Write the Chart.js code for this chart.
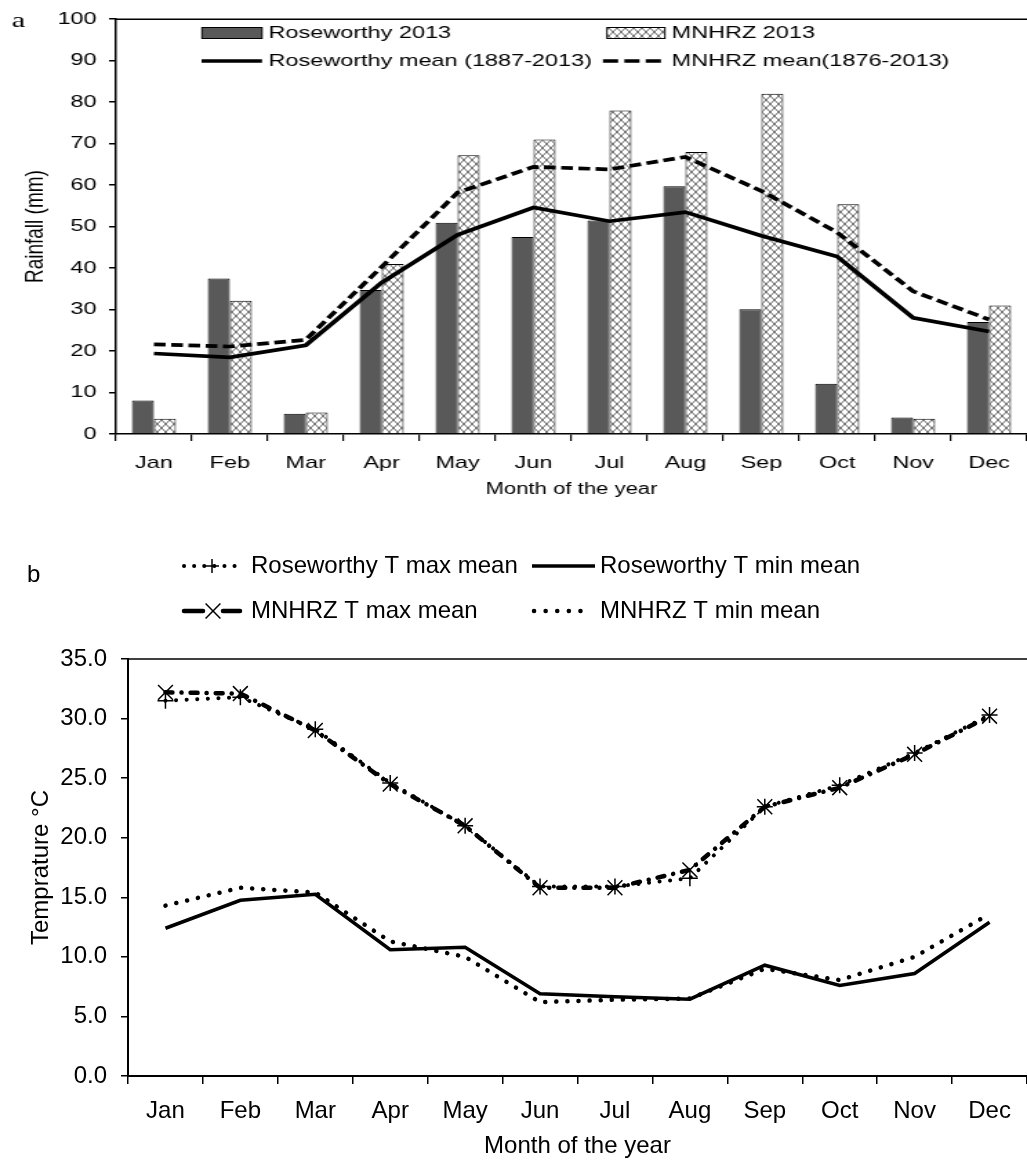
<!DOCTYPE html>
<html>
<head>
<meta charset="utf-8">
<script src="https://cdn.jsdelivr.net/npm/chart.js@4.4.1/dist/chart.umd.min.js"></script>
<style>
    html, body { margin: 0; padding: 0; background: #fff; }
    body { width: 1027px; height: 1169px; position: relative; overflow: hidden; }
    canvas { position: absolute; left: 0; }
    #rain-chart { top: 0; }
    #temp-chart { top: 520px; }
</style>
</head>
<body>
<!-- the rainfall panel is drawn narrow and stretched sideways, like the wide lettering of the original -->
<canvas id="rain-chart" width="744" height="510" style="width:1027px;height:510px"></canvas>
<canvas id="temp-chart" width="1027" height="649" style="width:1027px;height:649px"></canvas>
<script>
// ===== DATA =====
const MONTHS = ['Jan', 'Feb', 'Mar', 'Apr', 'May', 'Jun', 'Jul', 'Aug', 'Sep', 'Oct', 'Nov', 'Dec'];

// (a) rainfall, mm
const rainTicks = [0, 10, 20, 30, 40, 50, 60, 70, 80, 90, 100];
const roseworthy2013 = [8.1, 37.5, 4.9, 34.7, 50.9, 47.5, 51.5, 59.7, 30.1, 12.1, 4.0, 27.0];
const mnhrz2013 = [3.7, 32.1, 5.2, 41.0, 67.2, 71.0, 78.0, 68.0, 82.0, 55.4, 3.7, 31.0];
const roseworthyMean = [19.4, 18.5, 21.4, 36.5, 48.0, 54.6, 51.3, 53.5, 47.8, 42.8, 28.0, 24.7];
const mnhrzMean = [21.6, 21.1, 22.7, 40.3, 58.2, 64.4, 63.8, 66.8, 58.6, 48.6, 34.4, 27.6];

// (b) temperature, °C
const tempTicks = [0, 5, 10, 15, 20, 25, 30, 35];
const roseworthyTmax = [31.5, 31.8, 29.1, 24.6, 21.0, 15.9, 15.9, 16.6, 22.6, 24.4, 27.1, 30.3];
const roseworthyTmin = [12.4, 14.75, 15.25, 10.6, 10.8, 6.9, 6.65, 6.45, 9.3, 7.6, 8.6, 12.9];
const mnhrzTmax = [32.2, 32.1, 29.0, 24.5, 21.0, 15.8, 15.8, 17.3, 22.6, 24.2, 27.0, 30.2];
const mnhrzTmin = [14.3, 15.8, 15.4, 11.3, 10.0, 6.2, 6.4, 6.5, 9.0, 8.05, 10.0, 13.6];

const FONT = '"Liberation Sans", Arial, sans-serif';
Chart.defaults.font.family = FONT;
Chart.defaults.color = '#000';

// ===== HELPERS =====
function makeHatch(ctx) {
    const c = document.createElement('canvas');
    c.width = 6; c.height = 8;
    const g = c.getContext('2d');
    g.fillStyle = '#fff';
    g.fillRect(0, 0, 6, 8);
    g.strokeStyle = '#666';
    g.lineWidth = 1;
    g.beginPath();
    g.moveTo(0, 0); g.lineTo(6, 8);
    g.moveTo(6, 0); g.lineTo(0, 8);
    g.stroke();
    return ctx.createPattern(c, 'repeat');
}

function strokeSample(ctx, x0, x1, y, width, dash, cap) {
    ctx.save();
    ctx.strokeStyle = '#000';
    ctx.lineWidth = width;
    ctx.lineCap = cap || 'butt';
    ctx.setLineDash(dash || []);
    ctx.beginPath();
    ctx.moveTo(x0, y);
    ctx.lineTo(x1, y);
    ctx.stroke();
    ctx.restore();
}

function drawMarker(ctx, x, y, r, rotated) {
    ctx.save();
    ctx.strokeStyle = '#000';
    ctx.lineWidth = 1.5;
    ctx.beginPath();
    if (rotated) {
        const d = r * Math.SQRT1_2;
        ctx.moveTo(x - d, y - d); ctx.lineTo(x + d, y + d);
        ctx.moveTo(x + d, y - d); ctx.lineTo(x - d, y + d);
    } else {
        ctx.moveTo(x - r, y); ctx.lineTo(x + r, y);
        ctx.moveTo(x, y - r); ctx.lineTo(x, y + r);
    }
    ctx.stroke();
    ctx.restore();
}

// top edge of the plot frame
const topFrame = {
    id: 'topFrame',
    afterDraw(chart) {
        const { ctx, chartArea } = chart;
        ctx.save();
        ctx.strokeStyle = '#000';
        ctx.lineWidth = 1.5;
        ctx.beginPath();
        ctx.moveTo(chartArea.left, chartArea.top);
        ctx.lineTo(chartArea.right, chartArea.top);
        ctx.stroke();
        ctx.restore();
    }
};

// ===== (a) RAINFALL =====
const rainLegend = {
    id: 'rainLegend',
    afterDraw(chart) {
        const ctx = chart.ctx;
        const ds = chart.data.datasets;
        ctx.save();
        // bar swatches
        ctx.strokeStyle = '#000';
        ctx.lineWidth = 1;
        ctx.fillStyle = ds[0].backgroundColor;
        ctx.fillRect(146.3, 27.5, 43.5, 11);
        ctx.strokeRect(146.3, 27.5, 43.5, 11);
        ctx.fillStyle = ds[1].backgroundColor;
        ctx.fillRect(439.7, 27.5, 42, 11);
        ctx.strokeRect(439.7, 27.5, 42, 11);
        // line samples
        strokeSample(ctx, 146, 189.8, 61, ds[2].borderWidth);
        strokeSample(ctx, 436.8, 479.6, 61, ds[3].borderWidth, [11, 4.5]);
        // labels
        ctx.fillStyle = '#000';
        ctx.textBaseline = 'middle';
        ctx.font = '17px ' + FONT;
        ctx.fillText(ds[0].label, 194.5, 33);
        ctx.fillText(ds[1].label, 486.5, 33);
        ctx.fillText(ds[2].label, 194.5, 61);
        ctx.fillText(ds[3].label, 486.5, 61);
        // panel letter
        ctx.textBaseline = 'alphabetic';
        ctx.font = '22px "Liberation Serif", "Times New Roman", serif';
        ctx.fillText('a', 8.5, 27);
        ctx.restore();
    }
};

function initRainChart() {
    const canvas = document.getElementById('rain-chart');
    const ctx = canvas.getContext('2d');

    new Chart(canvas, {
        type: 'bar',
        data: {
            labels: MONTHS,
            datasets: [
                {
                    label: 'Roseworthy 2013',
                    data: roseworthy2013,
                    backgroundColor: '#595959',
                    borderColor: '#000',
                    borderWidth: 1,
                    order: 2
                },
                {
                    label: 'MNHRZ 2013',
                    data: mnhrz2013,
                    backgroundColor: makeHatch(ctx),
                    borderColor: '#000',
                    borderWidth: 1,
                    order: 2
                },
                {
                    type: 'line',
                    label: 'Roseworthy mean (1887-2013)',
                    data: roseworthyMean,
                    borderColor: '#000',
                    borderWidth: 3.7,
                    pointRadius: 0,
                    tension: 0,
                    order: 1
                },
                {
                    type: 'line',
                    label: 'MNHRZ mean(1876-2013)',
                    data: mnhrzMean,
                    borderColor: '#000',
                    borderWidth: 3.7,
                    borderDash: [8.5, 4],
                    pointRadius: 0,
                    tension: 0,
                    order: 0
                }
            ]
        },
        options: {
            responsive: false,
            animation: false,
            devicePixelRatio: 1,
            events: [],
            categoryPercentage: 0.58,
            barPercentage: 1.0,
            layout: { autoPadding: false, padding: { top: 15, left: 0, right: 0, bottom: 0 } },
            plugins: { legend: { display: false }, tooltip: { enabled: false } },
            scales: {
                x: {
                    offset: true,
                    grid: { offset: true, drawOnChartArea: false, tickLength: 7, tickColor: '#000', lineWidth: 1.2 },
                    border: { color: '#000', width: 1.5 },
                    ticks: { font: { size: 17 }, padding: 12, autoSkip: false, maxRotation: 0 },
                    title: { display: true, text: 'Month of the year', font: { size: 16 }, padding: { top: 0, bottom: 11 } },
                    afterFit: (axis) => { axis.height = 76; }
                },
                y: {
                    min: rainTicks[0],
                    max: rainTicks[rainTicks.length - 1],
                    ticks: { stepSize: rainTicks[1] - rainTicks[0], font: { size: 17 }, padding: 9 },
                    grid: { drawOnChartArea: false, tickLength: 5, tickColor: '#000', lineWidth: 1.5 },
                    border: { color: '#000', width: 1.5 },
                    title: { display: true, text: 'Rainfall (mm)', font: { size: 19 }, padding: { top: 14, bottom: 0 } },
                    afterFit: (axis) => { axis.width = 84; }
                }
            }
        },
        plugins: [topFrame, rainLegend]
    });
}

// ===== (b) TEMPERATURE =====
const tempLegend = {
    id: 'tempLegend',
    afterDraw(chart) {
        const ctx = chart.ctx;
        const ds = chart.data.datasets;
        ctx.save();
        // row 1
        strokeSample(ctx, 184, 243, 46, 4, [0.1, 10], 'round');
        drawMarker(ctx, 212, 46, 7, false);
        strokeSample(ctx, 532, 595, 46, 3.5);
        // row 2
        strokeSample(ctx, 184, 203, 91, 4.5, [], 'round');
        strokeSample(ctx, 223, 240, 91, 4.5, [], 'round');
        drawMarker(ctx, 213, 91, 10.5, true);
        strokeSample(ctx, 534, 592, 91, 4.5, [0.1, 11.5], 'round');
        // labels
        ctx.fillStyle = '#000';
        ctx.textBaseline = 'middle';
        ctx.font = '24px ' + FONT;
        ctx.fillText(ds[0].label, 251, 46);
        ctx.fillText(ds[1].label, 600, 46);
        ctx.fillText(ds[2].label, 251, 91);
        ctx.fillText(ds[3].label, 600, 91);
        // panel letter
        ctx.textBaseline = 'alphabetic';
        ctx.fillText('b', 27, 62);
        ctx.restore();
    }
};

function initTempChart() {
    const canvas = document.getElementById('temp-chart');

    new Chart(canvas, {
        type: 'line',
        data: {
            labels: MONTHS,
            datasets: [
                {
                    label: 'Roseworthy T max mean',
                    data: roseworthyTmax,
                    borderColor: '#000',
                    borderWidth: 4,
                    borderDash: [0.1, 10.5],
                    borderCapStyle: 'round',
                    pointStyle: 'cross',
                    pointRadius: 8,
                    pointBorderWidth: 1.5,
                    pointBorderColor: '#000',
                    tension: 0
                },
                {
                    label: 'Roseworthy T min mean',
                    data: roseworthyTmin,
                    borderColor: '#000',
                    borderWidth: 3.5,
                    pointRadius: 0,
                    tension: 0
                },
                {
                    label: 'MNHRZ T max mean',
                    data: mnhrzTmax,
                    borderColor: '#000',
                    borderWidth: 4.5,
                    borderDash: [7, 9, 0.1, 9],
                    borderCapStyle: 'round',
                    pointStyle: 'crossRot',
                    pointRadius: 10.5,
                    pointBorderWidth: 1.5,
                    pointBorderColor: '#000',
                    tension: 0
                },
                {
                    label: 'MNHRZ T min mean',
                    data: mnhrzTmin,
                    borderColor: '#000',
                    borderWidth: 4.5,
                    borderDash: [0.1, 11],
                    borderCapStyle: 'round',
                    pointRadius: 0,
                    tension: 0
                }
            ]
        },
        options: {
            responsive: false,
            animation: false,
            devicePixelRatio: 1,
            events: [],
            layout: { autoPadding: false, padding: { top: 139, left: 0, right: 0, bottom: 0 } },
            plugins: { legend: { display: false }, tooltip: { enabled: false } },
            scales: {
                x: {
                    offset: true,
                    grid: { offset: true, drawOnChartArea: false, tickLength: 8, tickColor: '#000', lineWidth: 1.5 },
                    border: { color: '#000', width: 2 },
                    ticks: { font: { size: 24 }, padding: 13, autoSkip: false, maxRotation: 0 },
                    title: { display: true, text: 'Month of the year', font: { size: 24 }, padding: { top: 0, bottom: 8 } },
                    afterFit: (axis) => { axis.height = 93; }
                },
                y: {
                    min: tempTicks[0],
                    max: tempTicks[tempTicks.length - 1],
                    ticks: {
                        stepSize: tempTicks[1] - tempTicks[0],
                        font: { size: 24 },
                        padding: 14,
                        callback: (v) => Number(v).toFixed(1)
                    },
                    grid: { drawOnChartArea: false, tickLength: 7, tickColor: '#000', lineWidth: 1.5 },
                    border: { color: '#000', width: 2 },
                    title: { display: true, text: 'Temprature °C', font: { size: 24 }, padding: { top: 27, bottom: 0 } },
                    afterFit: (axis) => { axis.width = 128; }
                }
            }
        },
        plugins: [topFrame, tempLegend]
    });
}

initRainChart();
initTempChart();
</script>
</body>
</html>
